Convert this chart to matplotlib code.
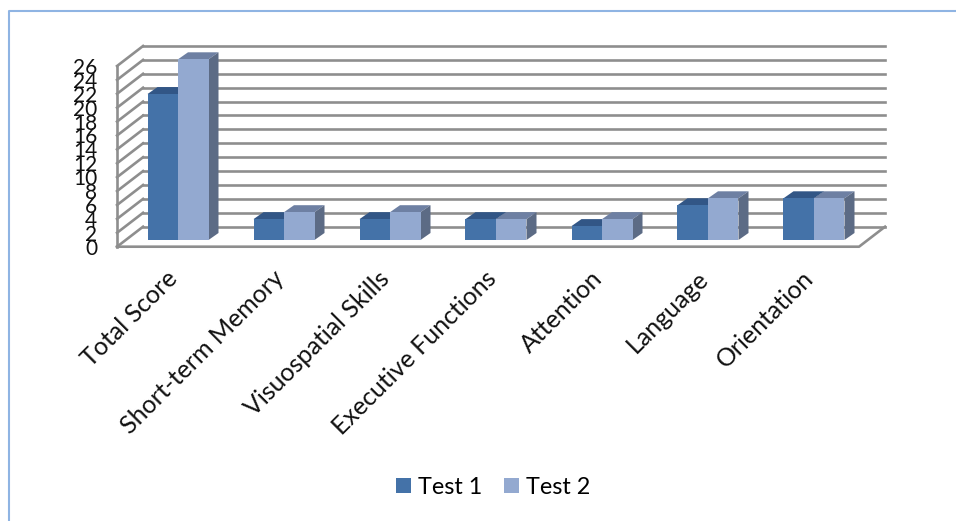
import matplotlib
matplotlib.use("Agg")
import matplotlib.pyplot as plt
from matplotlib.patches import Polygon, Rectangle

# ====================== DATA ======================
categories = [
    "Total Score", "Short-term Memory", "Visuospatial Skills",
    "Executive Functions", "Attention", "Language", "Orientation",
]
test1 = [21, 3, 3, 3, 2, 5, 6]
test2 = [26, 4, 4, 3, 3, 6, 6]
y_ticks = list(range(0, 28, 2))
series_names = ["Test 1", "Test 2"]

# ====================== STYLES ======================
W, H = 956, 521
GROUP_PX = 106.0
UNIT_PX = 6.95
X0_PX, Y0_PX = 178.0, 240.0      # first group centre, base of the bars

front_colors = ["#4472A8", "#93A9D0"]
top_colors = ["#325686", "#6E80A3"]
side_colors = ["#2F5079", "#5C6B85"]
grid_color = "#8E8E8E"
border_color = "#8FB4E3"

plt.rcParams["font.family"] = ["Lato", "DejaVu Sans"]

fig = plt.figure(figsize=(W / 100, H / 100), dpi=100)
ax = fig.add_axes([0, 0, 1, 1])
ax.set_xlim(-X0_PX / GROUP_PX, (W - X0_PX) / GROUP_PX)
ax.set_ylim(-(H - Y0_PX) / UNIT_PX, Y0_PX / UNIT_PX)
ax.axis("off")

# depth of the fake 3D, in data units
bar_w = 30.5 / GROUP_PX
dx = 10 / GROUP_PX
dy = 7 / UNIT_PX
wall_dx = 26 / GROUP_PX
wall_dy = 20 / UNIT_PX
front_base = -6.7 / UNIT_PX
left = -0.575
right = len(categories) - 1 + 0.425
top = max(y_ticks)

# ====================== WALLS ======================
line = dict(color=grid_color, lw=1.9, solid_capstyle="projecting", zorder=1)
for v in y_ticks:
    yf = front_base + v
    yb = yf + wall_dy
    ax.plot([left, left + wall_dx], [yf, yb], **line)
    ax.plot([left + wall_dx, right + wall_dx], [yb, yb], **line)
ax.plot([left, left], [front_base, front_base + top], **line)
ax.plot([left, right, right + wall_dx],
        [front_base, front_base, front_base + wall_dy], **line)

# ====================== BARS ======================
for k, values in enumerate([test1, test2]):
    for i, v in enumerate(values):
        x = i - bar_w + k * bar_w
        ax.add_patch(Polygon([(x, v), (x + dx, v + dy), (x + bar_w + dx, v + dy), (x + bar_w, v)],
                             fc=top_colors[k], ec="none", zorder=3 + k))
        ax.add_patch(Polygon([(x + bar_w, 0), (x + bar_w + dx, dy), (x + bar_w + dx, v + dy), (x + bar_w, v)],
                             fc=side_colors[k], ec="none", zorder=3 + k))
        ax.add_patch(Rectangle((x, 0), bar_w, v, fc=front_colors[k], ec="none", zorder=3 + k))

# ====================== TEXT ======================
for v in y_ticks:
    ax.text(left - 20 / GROUP_PX, front_base + v, str(v), ha="right", va="center_baseline",
            fontsize=15, color="#111111", zorder=6)

for i, name in enumerate(categories):
    ax.text(i - 12 / GROUP_PX, front_base - 20 / UNIT_PX, name, rotation=45, rotation_mode="anchor",
            ha="right", va="top", fontsize=18, color="#111111", zorder=6)

# legend
handles = [Rectangle((0, 0), 1, 1, fc=c, ec="none") for c in front_colors]
fig.legend(handles, series_names, loc="center", bbox_to_anchor=(493 / W, 1 - 487 / H), ncol=2,
           frameon=False, fontsize=16.8, handlelength=0.64, handleheight=0.64,
           handletextpad=0.3, columnspacing=0.95)

# frame around the pasted chart
fig.add_artist(plt.Line2D([8.5 / W, 8.5 / W, 1], [0, 1 - 10.5 / H, 1 - 10.5 / H],
                          color=border_color, lw=1.5, transform=fig.transFigure))

fig.savefig("out.png", dpi=100)
